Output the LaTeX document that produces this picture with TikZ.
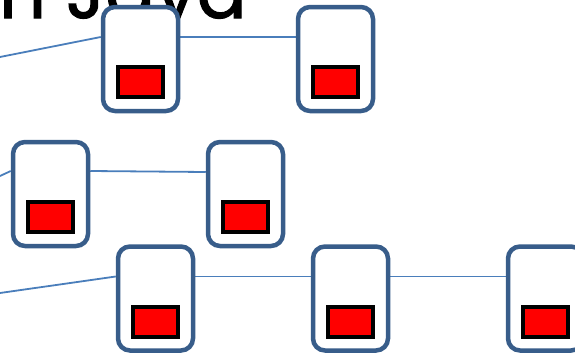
\documentclass[tikz,border=0pt]{standalone}
\usepackage{fontspec}
\newfontfamily\titlefont[FakeBold=1.5]{Poppins}
\usetikzlibrary{backgrounds}
\definecolor{boxblue}{RGB}{56,93,138}
\definecolor{linkblue}{RGB}{74,126,187}
\begin{document}
\begin{tikzpicture}[
      x=1pt, y=-1pt,
      box/.style={rectangle, rounded corners=12pt, draw=boxblue, line width=4.5pt,
        fill=white, minimum width=75pt, minimum height=104pt, inner sep=0pt},
      chip/.style={rectangle, draw=black, line width=4pt, fill=red,
        minimum width=45pt, minimum height=30pt, inner sep=0pt},
      link/.style={draw=linkblue, line width=1.8pt}
    ]
    \useasboundingbox (0,0) rectangle (575,356);
    \clip (0,0) rectangle (575,356);
    % Title, cut by the top edge
    \node[anchor=base east, inner sep=0pt, font=\titlefont\fontsize{74}{84}\selectfont]
      (title) at (247,18) {n Java};
    % Boxes, each with a red chip
    \foreach \n/\x/\y in {A/140.5/59, B/335.5/59, C/50.5/194, D/245.5/194,
                          E/155.5/298.5, F/350.5/298.5, G/545.5/298.5}{
      \node[box] (\n) at (\x,\y) {};
      \node[chip] (\n chip) at ([yshift=-23pt]\n.center) {};
    }
    % Free ends at the left edge
    \coordinate (inA) at (0,57);
    \coordinate (inC) at (0,176);
    \coordinate (inE) at (0,293);
    % Links between the boxes
    \begin{scope}[on background layer]
      \draw[link] (inA) -- ([yshift=22pt]A.west);
      \draw[link] ([yshift=22pt]A.east) -- ([yshift=22pt]B.west);
      \draw[link] (inC) -- ([yshift=23pt]C.west);
      \draw[link] ([yshift=23pt]C.east) -- ([yshift=22pt]D.west);
      \draw[link] (inE) -- ([yshift=22pt]E.west);
      \draw[link] ([yshift=22pt]E.east) -- ([yshift=22pt]F.west);
      \draw[link] ([yshift=22pt]F.east) -- ([yshift=22pt]G.west);
    \end{scope}
  \end{tikzpicture}
\end{document}
